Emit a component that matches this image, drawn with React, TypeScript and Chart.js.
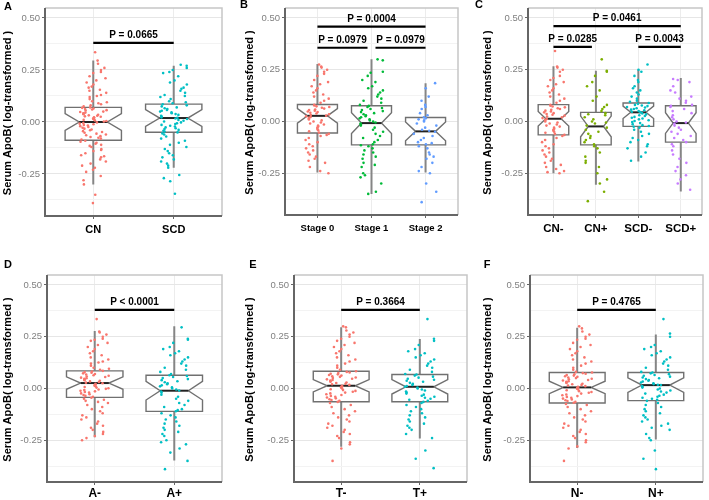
import React, { useEffect, useRef } from "react";
import { Chart, registerables } from "chart.js";
Chart.register(...registerables);

// ---------------- data ----------------
const yTitle = "Serum ApoB( log-transformed )";
const yTickValues = [-0.375, -0.25, -0.125, 0, 0.125, 0.25, 0.375, 0.5];
const yMajorTicks = [-0.25, 0, 0.25, 0.5];

// Panel A
const aCategories = ["CN", "SCD"];
const aCN = [0.335,0.295,0.28,0.26,0.25,0.24,0.235,0.22,0.21,0.2,0.19,0.18,0.17,0.165,0.155,0.15,0.14,0.13,0.125,0.12,0.11,0.1,0.095,0.09,0.085,0.08,0.075,
  0.07,0.068,0.065,0.062,0.06,0.057,0.055,0.05,0.048,0.045,0.042,0.04,0.037,0.035,0.032,0.03,0.027,0.025,0.022,0.02,0.017,0.015,0.012,0.01,0.007,0.005,0.002,
  -0.002,-0.005,-0.008,-0.011,-0.014,-0.017,-0.02,-0.024,-0.028,-0.032,-0.036,-0.04,-0.044,-0.048,-0.052,-0.056,-0.06,-0.064,-0.068,-0.072,-0.076,-0.08,-0.084,
  -0.09,-0.095,-0.1,-0.105,-0.11,-0.115,-0.12,-0.13,-0.135,-0.14,-0.15,-0.16,-0.165,-0.17,-0.18,-0.19,-0.2,-0.21,-0.22,-0.23,-0.24,-0.26,-0.28,-0.3,-0.35,-0.39];
const aSCD = [0.275,0.27,0.26,0.25,0.24,0.235,0.22,0.2,0.19,0.18,0.165,0.16,0.15,0.14,0.13,0.125,0.12,0.11,0.1,0.095,0.09,
  0.085,0.08,0.075,0.07,0.066,0.062,0.058,0.054,0.05,0.046,0.042,0.038,0.034,0.03,0.026,0.022,0.02,
  0.017,0.014,0.01,0.006,0.002,-0.002,-0.006,-0.01,-0.014,-0.018,-0.022,-0.026,-0.03,-0.034,-0.038,-0.042,-0.046,
  -0.05,-0.055,-0.06,-0.07,-0.08,-0.09,-0.1,-0.11,-0.12,-0.13,-0.14,-0.15,-0.16,-0.17,-0.18,-0.19,-0.2,-0.21,-0.22,-0.255,-0.27,-0.285,-0.345];
// [lower whisker, Q1, median, Q3, upper whisker, notch half-height]
const aBoxes = [[-0.30, -0.088, 0.0, 0.07, 0.295, 0.04], [-0.22, -0.049, 0.019, 0.086, 0.27, 0.04]];
const aTests = [{ from: 1, to: 2, y: 0.38, label: "P = 0.0665" }];

// Panel B
const bCategories = ["Stage 0", "Stage 1", "Stage 2"];
const bStage0 = [0.275,0.265,0.26,0.25,0.24,0.23,0.22,0.2,0.19,0.18,0.17,0.16,0.15,0.14,0.13,0.12,0.11,0.1,0.09,
  0.08,0.077,0.073,0.07,0.066,0.062,0.058,0.055,0.052,0.048,0.045,0.042,0.038,0.035,0.031,0.028,
  0.025,0.021,0.017,0.013,0.009,0.005,0.0,-0.005,-0.01,-0.015,-0.02,-0.025,-0.03,-0.036,-0.042,-0.048,-0.054,
  -0.06,-0.065,-0.07,-0.08,-0.09,-0.1,-0.11,-0.12,-0.13,-0.14,-0.15,-0.16,-0.17,-0.18,-0.19,-0.2,-0.22,-0.24,-0.25];
const bStage1 = [0.3,0.295,0.24,0.235,0.22,0.2,0.19,0.17,0.16,0.15,0.14,0.13,0.12,0.11,0.1,0.09,0.08,
  0.075,0.07,0.065,0.06,0.055,0.05,0.045,0.04,0.035,0.03,0.025,0.02,0.015,0.01,0.005,0.0,-0.005,
  -0.01,-0.015,-0.02,-0.03,-0.04,-0.05,-0.06,-0.07,-0.08,-0.09,-0.1,-0.11,
  -0.115,-0.12,-0.13,-0.14,-0.15,-0.16,-0.17,-0.18,-0.2,-0.21,-0.22,-0.25,-0.26,-0.27,-0.3,-0.34,-0.35];
const bStage2 = [0.185,0.16,0.12,0.1,0.08,0.07,0.06,0.04,0.03,0.02,
  0.015,0.01,0.005,0.0,-0.01,-0.02,-0.03,-0.04,-0.045,
  -0.05,-0.06,-0.07,-0.08,-0.09,-0.1,-0.105,-0.11,
  -0.12,-0.13,-0.15,-0.16,-0.17,-0.18,-0.2,-0.22,-0.24,-0.25,-0.3,-0.34,-0.39];
const bBoxes = [[-0.247, -0.056, 0.027, 0.082, 0.277, 0.035], [-0.35, -0.113, -0.008, 0.076, 0.30, 0.05], [-0.247, -0.113, -0.048, 0.019, 0.185, 0.045]];
const bTests = [
  { from: 1, to: 3, y: 0.458, label: "P = 0.0004" },
  { from: 1, to: 2, y: 0.356, label: "P = 0.0979", trimR: 4 },
  { from: 2, to: 3, y: 0.356, label: "P = 0.0979", trimL: 4 },
];

// Panel C
const cCategories = ["CN-", "CN+", "SCD-", "SCD+"];
const cCNneg = [0.34,0.265,0.26,0.25,0.24,0.22,0.21,0.2,0.19,0.18,0.17,0.16,0.15,0.14,0.13,0.12,0.11,0.1,0.09,
  0.08,0.076,0.072,0.068,0.064,0.06,0.056,0.052,0.048,0.044,0.04,0.036,0.032,0.028,0.024,0.02,0.016,
  0.012,0.008,0.004,0.0,-0.005,-0.01,-0.015,-0.02,-0.025,-0.03,-0.035,-0.04,-0.045,-0.05,-0.055,-0.06,
  -0.065,-0.07,-0.08,-0.09,-0.1,-0.11,-0.12,-0.13,-0.14,-0.15,-0.16,-0.17,-0.18,-0.19,-0.2,-0.21,-0.22,-0.23,-0.24,-0.245,-0.25];
const cCNpos = [0.3,0.245,0.24,0.22,0.19,0.17,0.15,0.12,0.1,0.08,0.07,0.06,0.05,
  0.04,0.035,0.03,0.02,0.01,0.0,-0.005,-0.01,-0.02,
  -0.03,-0.04,-0.05,-0.06,-0.07,-0.08,-0.09,-0.1,-0.11,
  -0.12,-0.13,-0.15,-0.17,-0.19,-0.2,-0.22,-0.25,-0.28,-0.3,-0.34,-0.385];
const cSCDneg = [0.275,0.25,0.24,0.22,0.2,0.19,0.17,0.16,0.15,0.14,0.13,0.12,0.11,0.1,0.095,
  0.089,0.085,0.08,0.077,0.074,0.07,0.067,0.064,0.06,0.057,0.054,0.05,0.047,0.045,
  0.042,0.038,0.034,0.03,0.026,0.022,0.018,0.014,0.01,0.006,0.002,-0.003,-0.008,-0.013,-0.018,-0.022,
  -0.026,-0.03,-0.04,-0.05,-0.06,-0.07,-0.08,-0.09,-0.1,-0.11,-0.12,-0.13,-0.15,-0.17,-0.19];
const cSCDpos = [0.205,0.2,0.19,0.17,0.15,0.14,0.12,0.11,0.1,0.09,0.08,
  0.075,0.07,0.06,0.05,0.04,0.03,0.02,0.01,0.0,-0.005,
  -0.01,-0.02,-0.03,-0.04,-0.05,-0.06,-0.07,-0.08,-0.09,-0.1,
  -0.11,-0.12,-0.14,-0.16,-0.18,-0.2,-0.22,-0.24,-0.26,-0.28,-0.3,-0.33];
const cBoxes = [[-0.25, -0.065, 0.013, 0.081, 0.266, 0.035], [-0.306, -0.113, -0.024, 0.044, 0.245, 0.05],
  [-0.194, -0.024, 0.044, 0.089, 0.25, 0.03], [-0.339, -0.10, -0.008, 0.076, 0.21, 0.05]];
const cTests = [
  { from: 1, to: 4, y: 0.46, label: "P = 0.0461" },
  { from: 1, to: 2, y: 0.36, label: "P = 0.0285", trimR: 4 },
  { from: 3, to: 4, y: 0.36, label: "P = 0.0043" },
];

// Panel D
const dCategories = ["A-", "A+"];
const dAneg = [0.335,0.275,0.27,0.26,0.25,0.24,0.235,0.23,0.22,0.21,0.2,0.19,0.18,0.17,0.16,0.15,0.14,0.13,0.125,0.12,0.11,0.1,0.095,0.09,
  0.085,0.082,0.079,0.076,0.073,0.07,0.067,0.064,0.061,0.058,0.055,0.052,0.049,0.046,0.043,0.04,0.037,0.034,0.031,0.028,
  0.025,0.022,0.019,0.016,0.013,0.01,0.007,0.004,0.001,-0.002,-0.005,-0.008,-0.011,-0.014,-0.017,-0.02,-0.024,-0.028,-0.032,-0.036,-0.04,
  -0.045,-0.05,-0.055,-0.06,-0.065,-0.07,-0.08,-0.09,-0.1,-0.11,-0.12,-0.13,-0.14,-0.15,-0.16,-0.17,-0.18,-0.19,-0.2,-0.21,-0.22,-0.23,-0.24,-0.25];
const dApos = [0.295,0.24,0.235,0.22,0.2,0.19,0.18,0.17,0.16,0.15,0.14,0.13,0.12,0.11,0.1,0.09,0.08,0.07,
  0.064,0.06,0.055,0.05,0.045,0.04,0.035,0.03,0.025,0.02,0.015,0.01,0.005,0.0,-0.005,-0.01,
  -0.015,-0.02,-0.03,-0.04,-0.05,-0.06,-0.07,-0.08,-0.09,-0.1,-0.105,-0.11,
  -0.12,-0.13,-0.14,-0.15,-0.16,-0.17,-0.18,-0.19,-0.2,-0.21,-0.22,-0.23,-0.25,-0.26,-0.27,-0.29,-0.31,-0.35,-0.39];
const dBoxes = [[-0.236, -0.043, 0.026, 0.085, 0.277, 0.03], [-0.348, -0.111, -0.011, 0.064, 0.30, 0.045]];
const dTests = [{ from: 1, to: 2, y: 0.38, label: "P < 0.0001" }];

// Panel E
const eCategories = ["T-", "T+"];
const eTneg = [0.3,0.295,0.28,0.27,0.26,0.25,0.24,0.23,0.22,0.21,0.2,0.19,0.18,0.17,0.16,0.15,0.14,0.13,0.12,0.11,0.1,0.09,
  0.083,0.08,0.077,0.074,0.071,0.068,0.065,0.062,0.059,0.056,0.053,0.05,0.047,0.044,0.041,0.038,0.035,0.032,0.029,0.026,0.023,0.02,0.017,
  0.013,0.01,0.007,0.004,0.0,-0.004,-0.008,-0.012,-0.016,-0.02,-0.024,-0.028,-0.032,-0.036,-0.04,-0.044,-0.048,-0.052,-0.056,-0.06,
  -0.065,-0.07,-0.08,-0.09,-0.1,-0.11,-0.12,-0.13,-0.14,-0.15,-0.16,-0.17,-0.18,-0.19,-0.2,-0.21,-0.22,-0.23,-0.24,-0.26,-0.27,-0.29,-0.35];
const eTpos = [0.335,0.24,0.23,0.21,0.19,0.18,0.17,0.16,0.15,0.14,0.13,0.12,0.11,0.1,0.09,0.08,0.07,
  0.067,0.062,0.057,0.052,0.047,0.042,0.037,0.032,0.027,0.022,0.017,0.012,0.008,
  0.004,0.0,-0.005,-0.01,-0.015,-0.02,-0.025,-0.03,-0.035,-0.04,-0.045,-0.05,-0.055,-0.06,
  -0.065,-0.07,-0.08,-0.09,-0.1,-0.11,-0.12,-0.13,-0.14,-0.15,-0.16,-0.17,-0.18,-0.19,-0.2,-0.22,-0.24,-0.3,-0.34,-0.385];
const eBoxes = [[-0.282, -0.064, 0.013, 0.083, 0.295, 0.03], [-0.242, -0.064, 0.008, 0.067, 0.239, 0.035]];
const eTests = [{ from: 1, to: 2, y: 0.38, label: "P = 0.3664" }];

// Panel F
const fCategories = ["N-", "N+"];
const fNneg = [0.3,0.29,0.275,0.26,0.25,0.24,0.235,0.22,0.21,0.2,0.19,0.18,0.17,0.16,0.15,0.14,0.13,0.12,0.11,0.1,0.09,0.08,
  0.077,0.074,0.071,0.068,0.065,0.062,0.059,0.056,0.053,0.05,0.047,0.044,0.041,0.038,0.035,0.032,0.029,0.026,0.023,0.02,0.017,0.014,0.011,0.008,
  0.005,0.002,-0.001,-0.005,-0.009,-0.013,-0.017,-0.021,-0.025,-0.029,-0.033,-0.037,-0.041,-0.045,-0.049,-0.053,-0.057,-0.061,-0.065,-0.069,
  -0.075,-0.08,-0.09,-0.1,-0.11,-0.12,-0.13,-0.14,-0.15,-0.16,-0.17,-0.18,-0.19,-0.2,-0.21,-0.22,-0.23,-0.24,-0.25,-0.26,-0.28,-0.29,-0.35];
const fNpos = [0.335,0.265,0.25,0.21,0.2,0.19,0.18,0.17,0.16,0.15,0.14,0.13,0.12,0.11,0.1,0.09,0.08,
  0.077,0.073,0.069,0.065,0.061,0.057,0.053,0.049,0.045,0.041,0.037,0.033,0.029,0.025,0.021,0.018,
  0.016,0.012,0.008,0.004,0.0,-0.005,-0.01,-0.015,-0.02,-0.025,-0.03,-0.035,-0.04,-0.045,-0.05,-0.055,
  -0.06,-0.07,-0.08,-0.09,-0.1,-0.11,-0.12,-0.13,-0.14,-0.15,-0.16,-0.17,-0.18,-0.19,-0.2,-0.22,-0.24,-0.25,-0.3,-0.34,-0.39];
const fBoxes = [[-0.288, -0.07, 0.005, 0.077, 0.293, 0.03], [-0.247, -0.059, 0.016, 0.077, 0.261, 0.035]];
const fTests = [{ from: 1, to: 2, y: 0.38, label: "P = 0.4765" }];

// ---------------- styling / layout ----------------
const RED = "#F8766D", CYAN = "#00BFC4", GREEN = "#00BA38", BLUE = "#619CFF", OLIVE = "#7CAE00", PURPLE = "#C77CFF";
const FONT = '"Liberation Sans", Arial, Helvetica, sans-serif';
const Y_MIN = -0.452, Y_MAX = 0.548;

type Test = { from: number; to: number; y: number; label: string; trimL?: number; trimR?: number };
type PanelCfg = {
  letter: string; lx: number; ly: number; tx: number;
  left: number; top: number; w: number; h: number;
  padL: number; yW: number; padR: number; padT: number; xH: number; xPad: number;
  xMin: number; xMax: number; xFont: number; jitter: number; boxWidth: number;
  categories: string[]; groups: number[][]; colors: string[]; boxes: number[][]; tests: Test[];
};

const panels: PanelCfg[] = [
  { letter: "A", lx: 8, ly: 7, tx: 8, left: 0, top: 0, w: 235, h: 250, padL: 0, yW: 45, padR: 13, padT: 8, xH: 34, xPad: 4,
    xMin: 0.4, xMax: 2.6, xFont: 11, jitter: 0.17, boxWidth: 0.7,
    categories: aCategories, groups: [aCN, aSCD], colors: [RED, CYAN], boxes: aBoxes, tests: aTests },
  { letter: "B", lx: 9, ly: 5, tx: 15, left: 235, top: 0, w: 235, h: 250, padL: 7, yW: 43, padR: 12, padT: 8, xH: 35, xPad: 5,
    xMin: 0.4, xMax: 3.6, xFont: 9.5, jitter: 0.22, boxWidth: 0.74,
    categories: bCategories, groups: [bStage0, bStage1, bStage2], colors: [RED, GREEN, BLUE], boxes: bBoxes, tests: bTests },
  { letter: "C", lx: 9, ly: 5, tx: 18, left: 470, top: 0, w: 239, h: 250, padL: 10, yW: 48, padR: 7, padT: 8, xH: 35, xPad: 4,
    xMin: 0.4, xMax: 4.5, xFont: 11.5, jitter: 0.27, boxWidth: 0.72,
    categories: cCategories, groups: [cCNneg, cCNpos, cSCDneg, cSCDpos], colors: [RED, OLIVE, CYAN, PURPLE], boxes: cBoxes, tests: cTests },
  { letter: "D", lx: 8, ly: 15, tx: 8, left: 0, top: 250, w: 235, h: 250, padL: 0, yW: 47, padR: 13, padT: 25, xH: 18, xPad: 1,
    xMin: 0.4, xMax: 2.6, xFont: 12, jitter: 0.18, boxWidth: 0.71,
    categories: dCategories, groups: [dAneg, dApos], colors: [RED, CYAN], boxes: dBoxes, tests: dTests },
  { letter: "E", lx: 18, ly: 15, tx: 15, left: 235, top: 250, w: 235, h: 250, padL: 7, yW: 52, padR: 3, padT: 25, xH: 18, xPad: 1,
    xMin: 0.4, xMax: 2.6, xFont: 12, jitter: 0.19, boxWidth: 0.71,
    categories: eCategories, groups: [eTneg, eTpos], colors: [RED, CYAN], boxes: eBoxes, tests: eTests },
  { letter: "F", lx: 17, ly: 15, tx: 18, left: 470, top: 250, w: 239, h: 250, padL: 10, yW: 50, padR: 6, padT: 25, xH: 18, xPad: 1,
    xMin: 0.4, xMax: 2.6, xFont: 12, jitter: 0.19, boxWidth: 0.71,
    categories: fCategories, groups: [fNneg, fNpos], colors: [RED, CYAN], boxes: fBoxes, tests: fTests },
];

// deterministic horizontal jitter offset in [-1, 1] from an integer hash (layout only, not data)
const spread = (i: number, g: number) => {
  let n = (i * 2654435761 + g * 40503 + 12345) >>> 0;
  n ^= n >>> 16;
  n = Math.imul(n, 0x7feb352d) >>> 0;
  n ^= n >>> 15;
  n = Math.imul(n, 0x846ca68b) >>> 0;
  n ^= n >>> 16;
  return ((n >>> 0) / 4294967296) * 2 - 1;
};

function drawBox(ctx: CanvasRenderingContext2D, xs: any, ys: any, pos: number, width: number, b: number[]) {
  const [lo, q1, med, q3, hi, notch] = b;
  const xc = xs.getPixelForValue(pos);
  const xl = xs.getPixelForValue(pos - width / 2);
  const xr = xs.getPixelForValue(pos + width / 2);
  const ind = (xr - xl) * 0.25;
  const yLo = ys.getPixelForValue(lo), yQ1 = ys.getPixelForValue(q1), yMed = ys.getPixelForValue(med);
  const yQ3 = ys.getPixelForValue(q3), yHi = ys.getPixelForValue(hi);
  const yNh = ys.getPixelForValue(med + notch), yNl = ys.getPixelForValue(med - notch);
  ctx.lineCap = "butt";
  ctx.strokeStyle = "#858585";
  ctx.lineWidth = 2;
  ctx.beginPath();
  ctx.moveTo(xc, yHi); ctx.lineTo(xc, yQ3);
  ctx.moveTo(xc, yQ1); ctx.lineTo(xc, yLo);
  ctx.stroke();
  ctx.beginPath();
  ctx.moveTo(xl, yQ3); ctx.lineTo(xl, yNh); ctx.lineTo(xl + ind, yMed); ctx.lineTo(xl, yNl); ctx.lineTo(xl, yQ1);
  ctx.lineTo(xr, yQ1); ctx.lineTo(xr, yNl); ctx.lineTo(xr - ind, yMed); ctx.lineTo(xr, yNh); ctx.lineTo(xr, yQ3);
  ctx.closePath();
  ctx.fillStyle = "#ffffff";
  ctx.fill();
  ctx.strokeStyle = "#707070";
  ctx.lineWidth = 1.4;
  ctx.lineJoin = "miter";
  ctx.stroke();
  ctx.strokeStyle = "#222222";
  ctx.lineWidth = 2;
  ctx.beginPath();
  ctx.moveTo(xl + ind, yMed); ctx.lineTo(xr - ind, yMed);
  ctx.stroke();
}

function makePlugin(p: PanelCfg) {
  return {
    id: "panelMarks" + p.letter,
    beforeDatasetsDraw(chart: any) {
      const ctx = chart.ctx as CanvasRenderingContext2D;
      ctx.save();
      p.boxes.forEach((b, i) => drawBox(ctx, chart.scales.x, chart.scales.y, i + 1, p.boxWidth, b));
      ctx.restore();
    },
    afterDraw(chart: any) {
      const ctx = chart.ctx as CanvasRenderingContext2D;
      const xs = chart.scales.x, ys = chart.scales.y;
      const a = chart.chartArea;
      ctx.save();
      // panel border
      ctx.strokeStyle = "#c6c6c6";
      ctx.lineWidth = 1.5;
      ctx.beginPath();
      ctx.moveTo(a.left, a.top); ctx.lineTo(a.right, a.top); ctx.lineTo(a.right, a.bottom);
      ctx.stroke();
      ctx.strokeStyle = "#666666";
      ctx.lineWidth = 2;
      ctx.beginPath();
      ctx.moveTo(a.left, a.top); ctx.lineTo(a.left, a.bottom); ctx.lineTo(a.right, a.bottom);
      ctx.stroke();
      // significance brackets
      ctx.strokeStyle = "#000";
      ctx.fillStyle = "#000";
      ctx.lineWidth = 2.2;
      ctx.font = `bold 10px ${FONT}`;
      ctx.textAlign = "center";
      ctx.textBaseline = "alphabetic";
      p.tests.forEach((t) => {
        const y = ys.getPixelForValue(t.y);
        const x1 = xs.getPixelForValue(t.from) + (t.trimL || 0);
        const x2 = xs.getPixelForValue(t.to) - (t.trimR || 0);
        ctx.beginPath();
        ctx.moveTo(x1, y); ctx.lineTo(x2, y);
        ctx.stroke();
        ctx.fillText(t.label, (x1 + x2) / 2, y - 5);
      });
      // y-axis title, centred on the plot's height
      ctx.save();
      ctx.translate(p.tx, (a.top + a.bottom) / 2 + 1);
      ctx.rotate(-Math.PI / 2);
      ctx.font = `bold 11px ${FONT}`;
      ctx.textAlign = "center";
      ctx.textBaseline = "middle";
      ctx.fillText(yTitle, 0, 0);
      ctx.restore();
      // panel letter
      ctx.font = `bold 11px ${FONT}`;
      ctx.textAlign = "center";
      ctx.textBaseline = "middle";
      ctx.fillText(p.letter, p.lx, p.ly);
      ctx.restore();
    },
  };
}

function Panel({ p }: { p: PanelCfg }) {
  const ref = useRef<HTMLCanvasElement | null>(null);
  useEffect(() => {
    if (!ref.current) return;
    const chart = new Chart(ref.current, {
      type: "scatter",
      data: {
        datasets: p.groups.map((vals, gi) => ({
          data: vals.map((v, i) => ({ x: gi + 1 + p.jitter * spread(i, gi), y: v })),
          backgroundColor: p.colors[gi],
          borderWidth: 0,
          pointRadius: 1.3,
          pointHoverRadius: 1.3,
        })),
      },
      options: {
        responsive: false,
        animation: false,
        events: [],
        layout: { padding: { left: p.padL, right: p.padR, top: p.padT, bottom: 0 } },
        plugins: { legend: { display: false }, tooltip: { enabled: false } },
        scales: {
          x: {
            type: "linear",
            min: p.xMin,
            max: p.xMax,
            afterBuildTicks: (s: any) => { s.ticks = p.categories.map((_, i) => ({ value: i + 1 })); },
            afterFit: (s: any) => { s.height = p.xH; },
            ticks: {
              callback: (v: any) => p.categories[Math.round(Number(v)) - 1] ?? "",
              color: "#000",
              font: { family: FONT, weight: "bold", size: p.xFont },
              padding: p.xPad,
              maxRotation: 0,
              autoSkip: false,
            },
            grid: { color: "#ececec", lineWidth: 1, drawTicks: true, tickLength: 3, tickColor: "#666" },
            border: { display: false },
          },
          y: {
            type: "linear",
            min: Y_MIN,
            max: Y_MAX,
            afterBuildTicks: (s: any) => { s.ticks = yTickValues.map((v) => ({ value: v })); },
            afterFit: (s: any) => { s.width = p.yW; },
            ticks: {
              callback: (v: any) => (yMajorTicks.includes(Number(v)) ? Number(v).toFixed(2) : ""),
              color: "#808080",
              font: { family: FONT, size: 9.5 },
              padding: 2,
              autoSkip: false,
            },
            grid: {
              color: (c: any) => (c.tick && yMajorTicks.includes(c.tick.value) ? "#e6e6e6" : "#f3f3f3"),
              lineWidth: 1,
              drawTicks: true,
              tickLength: 3,
              tickColor: (c: any) => (c.tick && yMajorTicks.includes(c.tick.value) ? "#666" : "rgba(0,0,0,0)"),
            },
            border: { display: false },
            title: { display: false },
          },
        },
      } as any,
      plugins: [makePlugin(p)],
    });
    return () => chart.destroy();
  }, [p]);
  return (
    <canvas
      ref={ref}
      width={p.w}
      height={p.h}
      style={{ position: "absolute", left: p.left, top: p.top, width: p.w, height: p.h }}
    />
  );
}

export default function App() {
  return (
    <div style={{ position: "absolute", left: 0, top: 0, width: 709, height: 500, background: "#fff", overflow: "hidden" }}>
      {panels.map((p) => (
        <Panel key={p.letter} p={p} />
      ))}
    </div>
  );
}
